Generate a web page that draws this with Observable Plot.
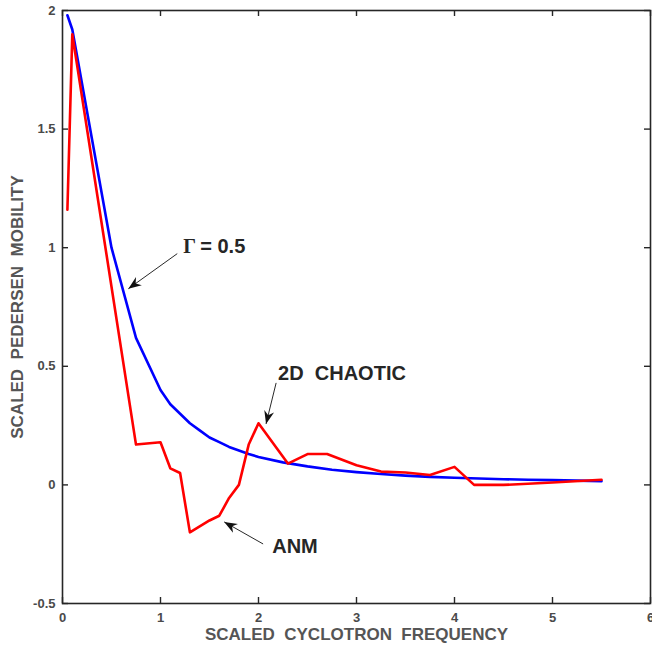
<!DOCTYPE html>
<html>
<head>
<meta charset="utf-8">
<script src="https://cdn.jsdelivr.net/npm/d3@7"></script>
<script src="https://cdn.jsdelivr.net/npm/@observablehq/plot@0.6"></script>
<style>
  html, body { margin: 0; padding: 0; background: #fff; }
  svg text { white-space: pre; }
</style>
</head>
<body>
<script>
// ---- data ----
const xTicks = [0, 1, 2, 3, 4, 5, 6];
const yTicks = [-0.5, 0, 0.5, 1, 1.5, 2];

// Gamma = 0.5 curve (blue)
const gammaX = [0.05, 0.1, 0.5, 0.75, 1.0, 1.1, 1.2, 1.3, 1.4, 1.5, 1.6, 1.7, 1.8, 1.9, 2.0, 2.25, 2.5, 2.75, 3.0, 3.25, 3.5, 3.75, 4.0, 4.25, 4.5, 4.75, 5.0, 5.25, 5.5];
const gammaY = [1.98, 1.92, 1.00, 0.62, 0.40, 0.34, 0.30, 0.26, 0.23, 0.20, 0.18, 0.16, 0.145, 0.13, 0.118, 0.095, 0.078, 0.064, 0.054, 0.046, 0.039, 0.034, 0.030, 0.027, 0.024, 0.022, 0.020, 0.018, 0.016];

// 2D chaotic curve (red)
const chaosX = [0.05, 0.1, 0.75, 1.0, 1.1, 1.2, 1.3, 1.5, 1.6, 1.7, 1.8, 1.9, 2.0, 2.3, 2.5, 2.7, 3.0, 3.25, 3.5, 3.75, 4.0, 4.2, 4.5, 5.0, 5.5];
const chaosY = [1.16, 1.90, 0.17, 0.18, 0.07, 0.05, -0.20, -0.15, -0.13, -0.055, 0.0, 0.17, 0.26, 0.09, 0.13, 0.13, 0.083, 0.056, 0.052, 0.042, 0.076, 0.0, 0.0, 0.01, 0.022];

// annotations (data coordinates)
const labelText = ["2D  CHAOTIC", "ANM"];
const labelX = [2.20, 2.14];
const labelY = [0.468, -0.262];

const gammaLabelX = [1.232];
const gammaLabelY = [1.004];

const arrowX1 = [1.171, 2.18, 2.047];
const arrowY1 = [0.975, 0.43, -0.249];
const arrowX2 = [0.672, 2.077, 1.65];
const arrowY2 = [0.827, 0.257, -0.156];

const xLabel = "SCALED  CYCLOTRON  FREQUENCY";
const yLabel = "SCALED  PEDERSEN  MOBILITY";

// ---- layout ----
const W = 652, H = 651;
const mT = 10, mR = 2, mB = 48, mL = 62;
const xDomain = [0, 6], yDomain = [-0.5, 2];
const plotW = W - mL - mR, plotH = H - mT - mB;

const gamma = gammaX.map((x, i) => ({x, y: gammaY[i]}));
const chaos = chaosX.map((x, i) => ({x, y: chaosY[i]}));
const labels = labelText.map((t, i) => ({t, x: labelX[i], y: labelY[i]}));

// pixel mapping mirroring Plot's linear scales, for arrowhead rotation
const px = d3.scaleLinear(xDomain, [mL, W - mR]);
const py = d3.scaleLinear(yDomain, [H - mB, mT]);
const arrows = arrowX1.map((x1, i) => {
  const dx = px(arrowX2[i]) - px(x1);
  const dy = py(arrowY2[i]) - py(arrowY1[i]);
  return {x1, y1: arrowY1[i], x2: arrowX2[i], y2: arrowY2[i],
          angle: Math.atan2(dx, -dy) * 180 / Math.PI};
});

// notched arrowhead symbol, tip at origin, pointing up
const headSymbol = {
  draw(ctx) {
    ctx.moveTo(0, 0);
    ctx.lineTo(-5, 13);
    ctx.lineTo(0, 9);
    ctx.lineTo(5, 13);
    ctx.closePath();
  }
};

const axisColor = "#262626";
const tickTextColor = "#4a4a4a";

const chart = Plot.plot({
  width: W, height: H,
  marginTop: mT, marginRight: mR, marginBottom: mB, marginLeft: mL,
  style: {fontFamily: "'Liberation Sans', Arial, sans-serif", background: "#fff", overflow: "visible"},
  x: {domain: xDomain},
  y: {domain: yDomain},
  marks: [
    Plot.line(gamma, {x: "x", y: "y", stroke: "#0000ff", strokeWidth: 2.6}),
    Plot.line(chaos, {x: "x", y: "y", stroke: "#ff0000", strokeWidth: 2.6}),
    Plot.frame({stroke: axisColor, strokeWidth: 1.6}),
    // inward ticks on all four sides
    Plot.tickX(xTicks, {x: d => d, stroke: axisColor, strokeWidth: 1.4, insetTop: plotH - 6}),
    Plot.tickX(xTicks, {x: d => d, stroke: axisColor, strokeWidth: 1.4, insetBottom: plotH - 6}),
    Plot.tickY(yTicks, {y: d => d, stroke: axisColor, strokeWidth: 1.4, insetRight: plotW - 6}),
    Plot.tickY(yTicks, {y: d => d, stroke: axisColor, strokeWidth: 1.4, insetLeft: plotW - 6}),
    Plot.axisX(xTicks, {anchor: "bottom", tickSize: 0, tickPadding: 9, label: null,
      tickFormat: d => String(d), fill: tickTextColor, fontSize: 13, fontWeight: "bold"}),
    Plot.axisY(yTicks, {anchor: "left", tickSize: 0, tickPadding: 7, label: null,
      tickFormat: d => String(d), fill: tickTextColor, fontSize: 13, fontWeight: "bold"}),
    // axis titles
    Plot.text([xLabel], {frameAnchor: "bottom", dy: 36, text: d => d, fill: "#555",
      fontSize: 17, fontWeight: "bold"}),
    Plot.text([yLabel], {frameAnchor: "left", dx: -45, rotate: -90, textAnchor: "middle",
      text: d => d, fill: "#555", fontSize: 17, fontWeight: "bold"}),
    // annotation arrows
    Plot.link(arrows, {x1: "x1", y1: "y1", x2: "x2", y2: "y2", stroke: "#111", strokeWidth: 0.9}),
    Plot.dot(arrows, {x: "x2", y: "y2", symbol: headSymbol, rotate: "angle", fill: "#111", stroke: "none", r: 5}),
    // annotation texts
    Plot.text(labels, {x: "x", y: "y", text: "t", textAnchor: "start", fill: axisColor,
      fontSize: 20, fontWeight: "bold"}),
    Plot.text(gammaLabelX.map((x, i) => ({x, y: gammaLabelY[i]})), {x: "x", y: "y", text: d => "Γ",
      textAnchor: "start", fill: axisColor, fontSize: 20, fontWeight: "bold",
      fontFamily: "'Liberation Serif', 'Times New Roman', serif"}),
    Plot.text(gammaLabelX.map((x, i) => ({x, y: gammaLabelY[i]})), {x: "x", y: "y", text: d => "= 0.5",
      textAnchor: "start", dx: 17, fill: axisColor, fontSize: 20, fontWeight: "bold"})
  ]
});
document.body.appendChild(chart);
</script>
</body>
</html>
